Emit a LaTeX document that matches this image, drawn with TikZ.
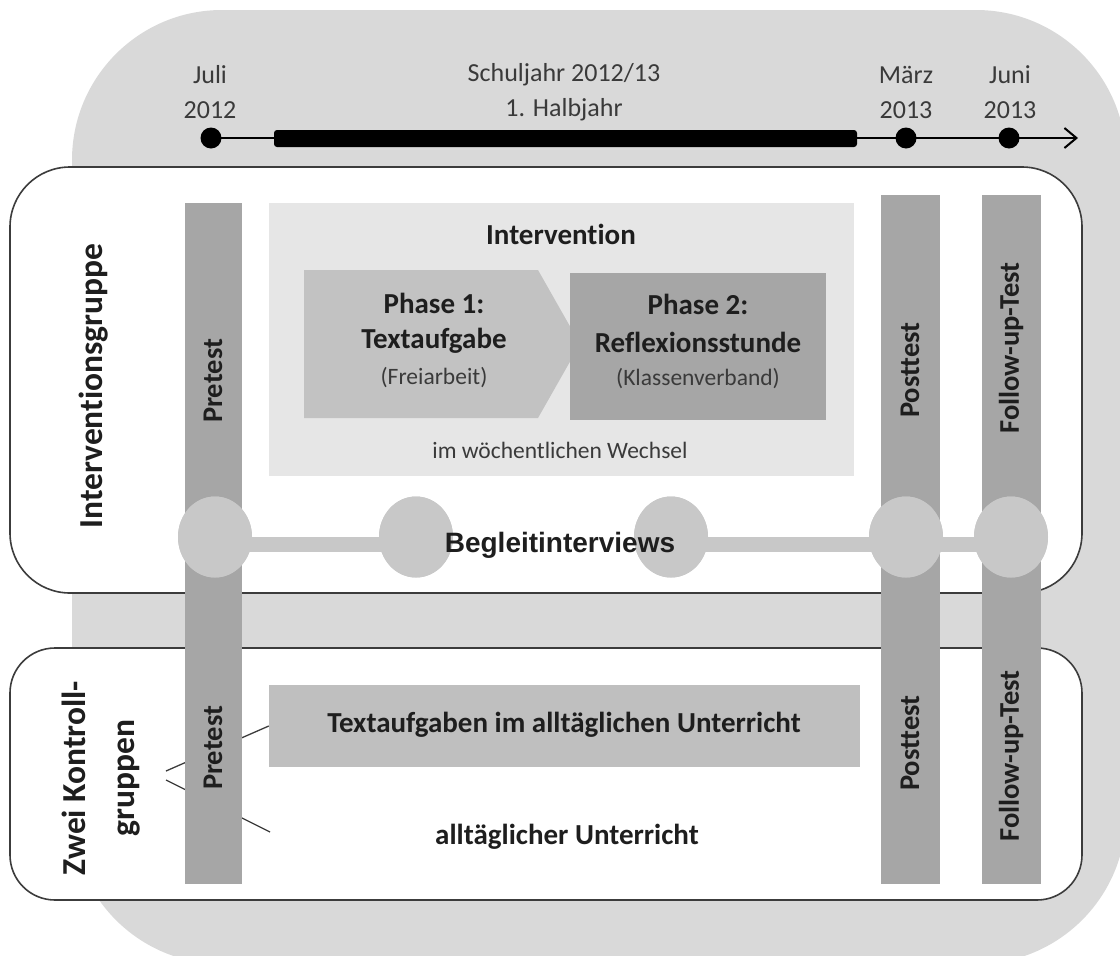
\documentclass[tikz,border=0pt]{standalone}
\usepackage{fontspec}
\setmainfont{Carlito}[Ligatures={NoCommon}]
\newfontfamily\arialfont{Liberation Sans}
\usetikzlibrary{arrows.meta,shapes.geometric}
\definecolor{bggrey}{HTML}{D9D9D9}
\definecolor{bargrey}{HTML}{A6A6A6}
\definecolor{ivgrey}{HTML}{E6E6E6}
\definecolor{phonegrey}{HTML}{C2C2C2}
\definecolor{tabgrey}{HTML}{BFBFBF}
\definecolor{circgrey}{HTML}{C8C8C8}
\definecolor{bordergrey}{HTML}{3C3C3C}
\definecolor{txt}{HTML}{1E1E1E}
\definecolor{ltxt}{HTML}{3A3A3A}
\begin{document}
\begin{tikzpicture}[x=1pt,y=-1pt,
  groupbox/.style={draw=bordergrey, line width=1.6pt, fill=white},
  testbar/.style={fill=bargrey, draw=none, inner sep=0pt, minimum width=57pt},
  bartext/.style={rotate=90, text=txt, inner sep=0pt, font=\fontsize{28.5}{30}\selectfont\bfseries},
  grouptext/.style={rotate=90, text=txt, inner sep=0pt, align=center, font=\fontsize{33.5}{49}\selectfont\bfseries},
  tltext/.style={text=ltxt, inner sep=0pt, font=\fontsize{26}{28}\selectfont},
  boldtext/.style={text=txt, inner sep=0pt, font=\fontsize{29}{32}\selectfont\bfseries},
  smalltext/.style={text=ltxt, inner sep=0pt, font=\fontsize{23.5}{26}\selectfont},
  tldot/.style={circle, fill=black, draw=none, minimum size=21pt, inner sep=0pt},
  interview/.style={ellipse, fill=circgrey, draw=none, minimum width=74pt, minimum height=81pt, inner sep=0pt},
  bracket/.style={draw=bordergrey, line width=1.3pt}
]
\useasboundingbox (0,0) rectangle (1120,956);
% background
\begin{scope}
  \clip (0,0) rectangle (1120,956);
  \fill[bggrey, rounded corners=150pt] (72,10) rectangle (1126,964);
\end{scope}
% timeline
\node[tltext] (juli) at (210,75) {Juli};
\node[tltext] (j12) at (210,110) {2012};
\node[tltext] (sj) at (564,75) {Schuljahr 2012/13};
\node[tltext] (hj) at (564,110) {1. Halbjahr};
\node[tltext] (maerz) at (906,75) {März};
\node[tltext] (m13) at (906,110) {2013};
\node[tltext] (juni) at (1010,75) {Juni};
\node[tltext] (ju13) at (1010,110) {2013};
\coordinate (tlend) at (1078,138);
\node[tldot] (d1) at (211,138) {};
\node[tldot] (d2) at (906,138) {};
\node[tldot] (d3) at (1009,138) {};
\draw[line width=2pt, -{Straight Barb[length=12pt,width=20pt,line width=2pt]}] (d1.center) -- (tlend);
\fill[black, rounded corners=3pt] (274,130) rectangle (857,147);
% group boxes
\draw[groupbox, rounded corners=60pt] (10,167) rectangle (1082,593);
\draw[groupbox, rounded corners=45pt] (10,648) rectangle (1082,900);
% intervention area
\fill[ivgrey] (269,203) rectangle (854,476);
\node[boldtext] (iv) at (561,234) {Intervention};
\fill[phonegrey] (304,270) -- (538,270) -- (580,344) -- (538,418) -- (304,418) -- cycle;
\fill[bargrey] (570,273) rectangle (826,420);
\node[boldtext] (p1a) at (434,303) {Phase 1:};
\node[boldtext] (p1b) at (434,341) {Textaufgabe};
\node[smalltext] (p1c) at (434,378) {(Freiarbeit)};
\node[boldtext] (p2a) at (698,304) {Phase 2:};
\node[boldtext] (p2b) at (698,342) {Reflexionsstunde};
\node[smalltext] (p2c) at (698,379) {(Klassenverband)};
\node[smalltext] (wech) at (560,450) {im wöchentlichen Wechsel};
% control group items
\node[fill=tabgrey, minimum width=591pt, minimum height=82pt, inner sep=0pt] (tabox) at (564.5,726) {};
\node[boldtext] (tatext) at (564,725) {Textaufgaben im alltäglichen Unterricht};
\node[boldtext] (alt) at (567,837) {alltäglicher Unterricht};
\coordinate (kg1) at (166,771);
\coordinate (kg2) at (166,780);
\coordinate (altend) at (270,832);
\draw[bracket] (kg1) -- (tabox.west);
\draw[bracket] (kg2) -- (altend);
% test bars
\node[testbar, minimum height=681pt, anchor=north west] (prebar) at (185,203) {};
\node[testbar, minimum height=689pt, anchor=north west, minimum width=59pt] (postbar) at (881,195) {};
\node[testbar, minimum height=689pt, anchor=north west, minimum width=59pt] (fubar) at (982,195) {};
% interviews
\node[interview] (e1) at (215,537) {};
\node[interview] (e2) at (416,537) {};
\node[interview] (e3) at (671,537) {};
\node[interview] (e4) at (906,537) {};
\node[interview] (e5) at (1011,537) {};
\draw[circgrey, line width=15pt] ([yshift=-7pt]e1.center) -- ([yshift=-7pt]e2.center);
\draw[circgrey, line width=15pt] ([yshift=-7pt]e3.center) -- ([yshift=-7pt]e5.center);
\node[interview] at (215,537) {};
\node[interview] at (416,537) {};
\node[interview] at (671,537) {};
\node[interview] at (906,537) {};
\node[interview] at (1011,537) {};
\node[text=txt, inner sep=0pt, font=\arialfont\fontsize{28}{30}\selectfont\bfseries] (beg) at (560,545) {Begleitinterviews};
% bar labels
\node[bartext] (pre1) at (213,381) {Pretest};
\node[bartext] (pre2) at (213,748) {Pretest};
\node[bartext] (post1) at (910,370) {Posttest};
\node[bartext] (post2) at (910,743) {Posttest};
\node[bartext] (fu1) at (1011,348) {Follow-up-Test};
\node[bartext] (fu2) at (1011,756) {Follow-up-Test};
% group labels
\node[grouptext] (ig) at (94,386) {Interventionsgruppe};
\node[grouptext] (kg) at (101,778) {Zwei Kontroll-\\gruppen};
\end{tikzpicture}
\end{document}
